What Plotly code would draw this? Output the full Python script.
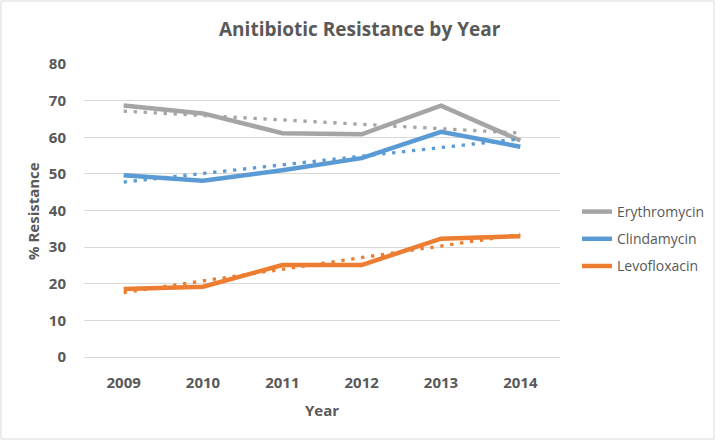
import numpy as np
import plotly.graph_objects as go

years = [2009, 2010, 2011, 2012, 2013, 2014]
erythromycin = [68.7, 66.5, 61.1, 60.8, 68.6, 59.1]
clindamycin = [49.6, 48.1, 51.0, 54.3, 61.5, 57.4]
levofloxacin = [18.6, 19.2, 25.1, 25.1, 32.3, 33.0]
series_names = ["Erythromycin", "Clindamycin", "Levofloxacin"]
series_values = [erythromycin, clindamycin, levofloxacin]
colors = ["#A5A5A5", "#5B9BD5", "#ED7D31"]
y_ticks = [0, 10, 20, 30, 40, 50, 60, 70, 80]

FONT = "Open Sans"
TXT = "#595959"

fig = go.Figure()
x_arr = np.array(years, dtype=float)
for name, vals, col in zip(series_names, series_values, colors):
    fig.add_trace(go.Scatter(x=years, y=vals, mode="lines", name=name,
                             legendgroup=name,
                             line=dict(color=col, width=4.5)))
# linear trendlines (least squares fit of each series, like Excel's trendline)
for name, vals, col in zip(series_names, series_values, colors):
    m, b = np.polyfit(x_arr, np.array(vals), 1)
    fig.add_trace(go.Scatter(x=years, y=m * x_arr + b, mode="lines",
                             showlegend=False, hoverinfo="skip",
                             line=dict(color=col, width=3.3, dash="3.3px,6.7px")))

L, R, T, B = 84, 160, 64, 84
W, H = 720, 441
pw = W - L - R
ph = H - T - B

def px(xp):
    return (xp - L) / pw

def py(yp):
    return (H - B - yp) / ph

fig.update_layout(
    width=W, height=H,
    margin=dict(l=L, r=R, t=T, b=B, autoexpand=False),
    paper_bgcolor="white", plot_bgcolor="white",
    font=dict(family=FONT, color=TXT),
    showlegend=True,
    legend=dict(x=px(577), y=py(196), xanchor="left", yanchor="top",
                font=dict(size=14, color=TXT, family=FONT),
                tracegroupgap=6, bgcolor="rgba(0,0,0,0)"),
    xaxis=dict(range=[2008.5, 2014.5], tickvals=years,
               ticktext=[str(y) for y in years],
               showgrid=False, zeroline=False, showline=False,
               ticks="outside", ticklen=12, tickcolor="rgba(0,0,0,0)",
               tickfont=dict(size=15, color=TXT, family=FONT, weight="bold")),
    yaxis=dict(range=[0, 80], tickvals=y_ticks,
               showgrid=True, gridcolor="#D9D9D9", gridwidth=1,
               zeroline=True, zerolinecolor="#D9D9D9", zerolinewidth=1,
               showline=False,
               ticks="outside", ticklen=14, tickcolor="rgba(0,0,0,0)",
               tickfont=dict(size=15, color=TXT, family=FONT, weight="bold")),
    annotations=[
        dict(text="Anitibiotic Resistance by Year", x=px(360), y=py(29),
             xref="paper", yref="paper", showarrow=False,
             xanchor="center", yanchor="middle",
             font=dict(size=19, color=TXT, family=FONT, weight="bold")),
        dict(text="% Resistance", x=px(33), y=py(211), textangle=-90,
             xref="paper", yref="paper", showarrow=False,
             xanchor="center", yanchor="middle",
             font=dict(size=15, color=TXT, family=FONT, weight="bold")),
        dict(text="Year", x=px(322), y=py(410),
             xref="paper", yref="paper", showarrow=False,
             xanchor="center", yanchor="middle",
             font=dict(size=15, color=TXT, family=FONT, weight="bold")),
    ],
    shapes=[dict(type="rect", xref="paper", yref="paper",
                 x0=px(1), x1=px(714), y0=py(439), y1=py(1),
                 line=dict(color="#D9D9D9", width=1), layer="below")],
)
fig.write_html("out.html", config={"displayModeBar": False},
               post_script="document.body.style.margin='0';document.body.style.padding='0';")
